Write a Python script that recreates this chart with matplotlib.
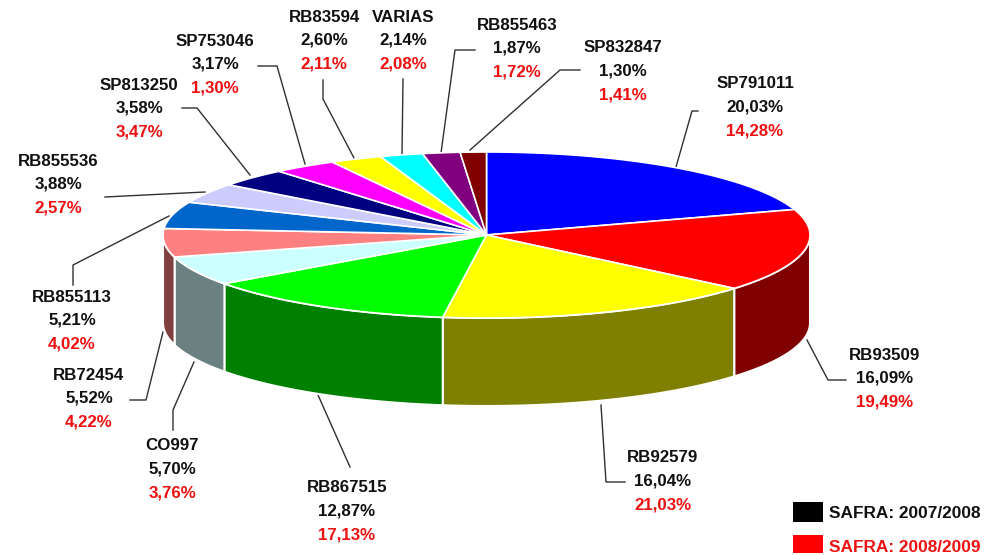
import numpy as np
import matplotlib
matplotlib.use("Agg")
import matplotlib.pyplot as plt

plt.rcParams["font.family"] = ["Liberation Sans", "DejaVu Sans"]

names = ["SP791011", "RB93509", "RB92579", "RB867515", "CO997", "RB72454", "RB855113",
         "RB855536", "SP813250", "SP753046", "RB83594", "VARIAS", "RB855463", "SP832847"]
safra_0708 = [20.03, 16.09, 16.04, 12.87, 5.70, 5.52, 5.21, 3.88, 3.58, 3.17, 2.60, 2.14, 1.87, 1.30]
safra_0809 = ["14,28", "19,49", "21,03", "17,13", "3,76", "4,22", "4,02",
              "2,57", "3,47", "1,30", "2,11", "2,08", "1,72", "1,41"]
legend_labels = ["SAFRA: 2007/2008", "SAFRA: 2008/2009"]

top_colors = ["#0000FF", "#FF0000", "#FFFF00", "#00FF00", "#CCFFFF", "#FF8080", "#0066CC",
              "#CCCCFF", "#000080", "#FF00FF", "#FFFF00", "#00FFFF", "#800080", "#800000"]
side_colors = ["#000080", "#800000", "#808000", "#008000", "#6B8080", "#804040", "#003366",
               "#666680", "#000040", "#800080", "#808000", "#008080", "#400040", "#400000"]

# pie geometry in pixels
cx, cy, rx, ry, depth = 486.5, 235, 323.5, 83, 88

# label centres (x, y of first line) and leader lines
label_pos = [(755, 84), (885, 355), (663, 458), (347, 488), (172, 446), (89, 375), (72, 297),
             (58, 161), (139, 85), (215, 41), (324, 17), (403, 17), (517, 25), (623, 48)]
leaders = [[(698, 111), (692, 111), (676, 167)],
           [(807, 340), (828, 380), (846, 380)],
           [(601, 405), (606, 482), (625, 482)],
           [(318, 395), (350, 467)],
           [(194, 362), (173, 410), (173, 430)],
           [(163, 332), (146, 400), (130, 400)],
           [(169, 216), (73, 265), (73, 285)],
           [(205, 192), (105, 197)],
           [(250, 175), (197, 108), (182, 108)],
           [(305, 164), (277, 66), (258, 66)],
           [(354, 158), (323, 99), (323, 80)],
           [(402, 154), (403, 79)],
           [(441, 153), (455, 50), (475, 50)],
           [(470, 150), (560, 70), (580, 70)]]


def rim(a, b):
    # points on the top ellipse, angles in radians clockwise from 12 o'clock
    t = np.linspace(a, b, 80)
    return cx + rx * np.sin(t), cy - ry * np.cos(t)


fig = plt.figure(figsize=(9.95, 5.55), dpi=100, facecolor="white")
ax = fig.add_axes([0, 0, 1, 1])
ax.set_xlim(0, 995)
ax.set_ylim(555, 0)
ax.axis("off")

edges = np.radians(np.concatenate(([0], np.cumsum(safra_0708))) * 3.6)

# front walls, only the part of the rim facing the viewer
for i in range(len(names)):
    a = max(edges[i], np.pi / 2)
    b = min(edges[i + 1], 3 * np.pi / 2)
    if b <= a:
        continue
    x, y = rim(a, b)
    ax.fill(np.r_[x, x[::-1]], np.r_[y, y[::-1] + depth], facecolor=side_colors[i],
            edgecolor="white", linewidth=1.5, zorder=2)

# top face
for i in range(len(names)):
    x, y = rim(edges[i], edges[i + 1])
    ax.fill(np.r_[cx, x], np.r_[cy, y], facecolor=top_colors[i],
            edgecolor="white", linewidth=1.2, zorder=3)

for pts in leaders:
    xs, ys = zip(*pts)
    ax.plot(xs, ys, color="#303030", linewidth=1, zorder=1)

for name, v, v2, (x, y) in zip(names, safra_0708, safra_0809, label_pos):
    ax.text(x, y, name, ha="center", va="center", fontsize=12.2, fontweight="bold", color="#111111")
    ax.text(x, y + 23, f"{v:.2f}%".replace(".", ","), ha="center", va="center",
            fontsize=12.2, fontweight="bold", color="#111111")
    ax.text(x, y + 47, v2 + "%", ha="center", va="center", fontsize=12.2,
            fontweight="bold", color="#EE1111")

# legend
for (top, h, color, label) in zip([502, 535], [20, 18], ["black", "#FF0000"], legend_labels):
    ax.add_patch(plt.Rectangle((793, top), 30, h, facecolor=color, edgecolor="none"))
    ax.text(829, top + 12, label, ha="left", va="center", fontsize=12.4, fontweight="bold",
            color="#111111" if color == "black" else "#EE1111")

fig.savefig("out.png", dpi=100, facecolor="white")
